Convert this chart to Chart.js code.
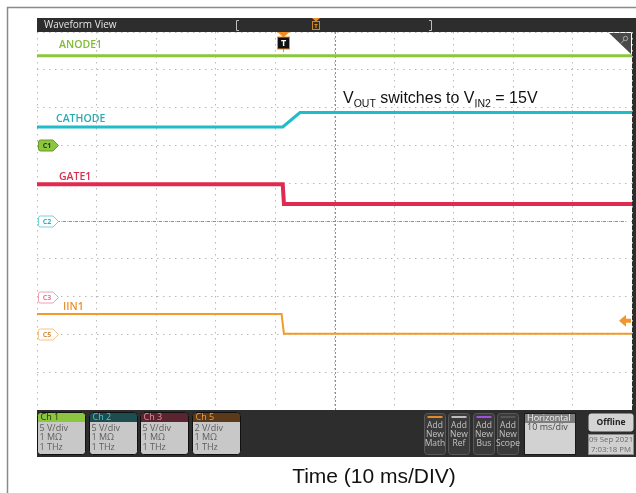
<!DOCTYPE html>
<html>
<head>
<meta charset="utf-8">
<title>Waveform View</title>
<script src="https://cdn.jsdelivr.net/npm/chart.js@4.4.1/dist/chart.umd.min.js"></script>
<style>
  html, body { margin: 0; padding: 0; background: #fff; }
  #wrap { width: 636px; height: 493px; }
</style>
</head>
<body>
<div id="wrap"><canvas id="scope" width="636" height="493"></canvas></div>
<script>
// horizontal: 10 div x 10 ms/div -> 0..100 ms ; vertical: 10 divisions
const anodeTime = [0, 100];
const anodeLevel = [9.37, 9.37];
const cathodeTime = [0, 41.3, 44.2, 100];
const cathodeLevel = [7.49, 7.49, 7.87, 7.87];
const gateTime = [0, 41.3, 41.5, 100];
const gateLevel = [5.97, 5.97, 5.45, 5.45];
const iinTime = [0, 41.1, 41.5, 100];
const iinLevel = [2.54, 2.54, 2.02, 2.02];

const channelNames = ["ANODE1", "CATHODE", "GATE1", "IIN1"];
const markerNames = ["C1", "C2", "C3", "C5"];
const markerLevels = [7, 5, 3, 2];
const triggerTime = 41.3;
const triggerLevel = 2.36;

const badgeNames = ["Ch 1", "Ch 2", "Ch 3", "Ch 5"];
const badgeScales = ["5 V/div", "5 V/div", "5 V/div", "2 V/div"];
const badgeImpedance = ["1 MΩ", "1 MΩ", "1 MΩ", "1 MΩ"];
const badgeBandwidth = ["1 THz", "1 THz", "1 THz", "1 THz"];
const addButtons = ["Math", "Ref", "Bus", "Scope"];
const horizontalScale = "10 ms/div";
const dateText = ["09 Sep 2021", "7:03:18 PM"];

const colors = ["#8cc63f", "#1fbcc9", "#e12a50", "#f39a2b"];
const labelColors = ["#7fbb35", "#2aaab3", "#d9304f", "#ec9231"];

function pts(t, v) {
  return t.map((x, i) => ({ x: x, y: v[i] }));
}

const UI = "'Open Sans', 'DejaVu Sans', sans-serif";

const scopeChrome = {
  id: "scopeChrome",
  beforeDraw(chart) {
    const ctx = chart.ctx;
    ctx.save();
    ctx.fillStyle = "#fff";
    ctx.fillRect(0, 0, 636, 493);
    // outer frame
    ctx.strokeStyle = "#8a8a8a";
    ctx.lineWidth = 1.5;
    ctx.beginPath();
    ctx.moveTo(7.5, 493);
    ctx.lineTo(7.5, 7.5);
    ctx.lineTo(636, 7.5);
    ctx.stroke();
    // title bar
    ctx.fillStyle = "#2d2d2d";
    ctx.fillRect(37, 18, 599, 14);
    ctx.fillRect(632, 18, 4, 395);
    ctx.fillStyle = "#e4e4e4";
    ctx.font = "10px " + UI;
    ctx.textBaseline = "middle";
    ctx.fillText("Waveform View", 44, 25.5);
    ctx.strokeStyle = "#bdbdbd";
    ctx.lineWidth = 1;
    ctx.beginPath();
    ctx.moveTo(239, 20.5); ctx.lineTo(236.5, 20.5); ctx.lineTo(236.5, 30.5); ctx.lineTo(239, 30.5);
    ctx.moveTo(429, 20.5); ctx.lineTo(431.5, 20.5); ctx.lineTo(431.5, 30.5); ctx.lineTo(429, 30.5);
    ctx.stroke();
    // trigger position in overview
    ctx.fillStyle = "#f28c1e";
    ctx.beginPath();
    ctx.moveTo(312, 18); ctx.lineTo(320, 18); ctx.lineTo(316, 21.5); ctx.closePath();
    ctx.fill();
    ctx.fillStyle = "#3b2c12";
    ctx.strokeStyle = "#d0852a";
    ctx.fillRect(312.5, 21.5, 7, 8);
    ctx.strokeRect(312.5, 21.5, 7, 8);
    ctx.fillStyle = "#e89a3c";
    ctx.font = "bold 6px " + UI;
    ctx.textAlign = "center";
    ctx.fillText("T", 316, 25.8);
    ctx.restore();
  },
  beforeDatasetsDraw(chart) {
    const ctx = chart.ctx;
    const xs = chart.scales.x, ys = chart.scales.y;
    const a = chart.chartArea;
    ctx.save();
    ctx.strokeStyle = "#8f8f8f";
    ctx.lineWidth = 1;
    ctx.setLineDash([2, 2]);
    const cx = Math.round(xs.getPixelForValue(50)) + 0.5;
    ctx.beginPath();
    ctx.moveTo(cx, a.top); ctx.lineTo(cx, a.bottom);
    ctx.stroke();
    ctx.setLineDash([3, 3]);
    const cy = Math.round(ys.getPixelForValue(5)) + 0.5;
    ctx.beginPath();
    ctx.moveTo(a.left + 20, cy); ctx.lineTo(a.right - 8, cy);
    ctx.stroke();
    ctx.restore();
  },
  afterDatasetsDraw(chart) {
    const ctx = chart.ctx;
    const xs = chart.scales.x, ys = chart.scales.y;
    ctx.save();
    // channel labels
    const startLevels = [anodeLevel[0], cathodeLevel[0], gateLevel[0], iinLevel[0]];
    const labelX = [59, 56, 59, 63];
    const labelDy = [-11, -8, -7.5, -6.5];
    ctx.font = "600 10.5px " + UI;
    ctx.textBaseline = "middle";
    channelNames.forEach((n, i) => {
      ctx.fillStyle = labelColors[i];
      ctx.fillText(n, labelX[i], ys.getPixelForValue(startLevels[i]) + labelDy[i]);
    });
    // ground tags on the left
    const tagFill = ["#8cc63f", "#ffffff", "#ffffff", "#ffffff"];
    const tagStroke = ["#6a9a2a", "#6fd6de", "#f2a0b4", "#f5c48a"];
    const tagText = ["#2a3a10", "#3aa9b2", "#e07a92", "#d9903a"];
    markerNames.forEach((n, i) => {
      const y = Math.round(ys.getPixelForValue(markerLevels[i])) + 0.5;
      const x0 = 38.5, x1 = 53, tip = 58.5, h = 5.5;
      ctx.beginPath();
      ctx.moveTo(x0 + 2, y - h);
      ctx.lineTo(x1, y - h);
      ctx.lineTo(tip, y);
      ctx.lineTo(x1, y + h);
      ctx.lineTo(x0 + 2, y + h);
      ctx.quadraticCurveTo(x0, y + h, x0, y + h - 2);
      ctx.lineTo(x0, y - h + 2);
      ctx.quadraticCurveTo(x0, y - h, x0 + 2, y - h);
      ctx.closePath();
      ctx.fillStyle = tagFill[i];
      ctx.fill();
      ctx.strokeStyle = tagStroke[i];
      ctx.lineWidth = 1;
      ctx.stroke();
      ctx.fillStyle = tagText[i];
      ctx.font = "bold 7px " + UI;
      ctx.textAlign = "center";
      ctx.fillText(n, 47, y + 0.5);
    });
    ctx.textAlign = "left";
    // trigger marker T
    const tx = Math.round(xs.getPixelForValue(triggerTime)) + 0.5;
    ctx.fillStyle = "#f28c1e";
    ctx.beginPath();
    ctx.moveTo(tx - 6, 32); ctx.lineTo(tx + 6, 32); ctx.lineTo(tx, 37.5); ctx.closePath();
    ctx.fill();
    ctx.fillStyle = "#111";
    ctx.strokeStyle = "#f28c1e";
    ctx.lineWidth = 1;
    ctx.fillRect(tx - 6, 37, 12, 12);
    ctx.strokeRect(tx - 6, 37, 12, 12);
    ctx.beginPath();
    ctx.moveTo(tx, 49); ctx.lineTo(tx, 52);
    ctx.stroke();
    ctx.fillStyle = "#fff";
    ctx.font = "bold 9px " + UI;
    ctx.textAlign = "center";
    ctx.fillText("T", tx, 43.5);
    // trigger level arrow on the right
    const ty = ys.getPixelForValue(triggerLevel);
    ctx.fillStyle = "#f0962d";
    ctx.beginPath();
    ctx.moveTo(619, ty); ctx.lineTo(626, ty - 6); ctx.lineTo(626, ty - 2);
    ctx.lineTo(631, ty - 2); ctx.lineTo(631, ty + 2); ctx.lineTo(626, ty + 2);
    ctx.lineTo(626, ty + 6); ctx.closePath();
    ctx.fill();
    // corner badge
    ctx.fillStyle = "#4a4a4a";
    ctx.beginPath();
    ctx.moveTo(609, 33); ctx.lineTo(631, 33); ctx.lineTo(631, 54); ctx.closePath();
    ctx.fill();
    ctx.strokeStyle = "#a8a8a8";
    ctx.beginPath();
    ctx.arc(625.5, 38.5, 2.2, 0, Math.PI * 2);
    ctx.moveTo(624, 40); ctx.lineTo(621, 43.5);
    ctx.stroke();
    // annotation with subscripts
    ctx.fillStyle = "#111";
    ctx.textAlign = "left";
    ctx.textBaseline = "alphabetic";
    const big = "16px 'Liberation Sans', Arial, sans-serif";
    const small = "10.5px 'Liberation Sans', Arial, sans-serif";
    const parts = [["V", big, 0], ["OUT", small, 3.5], [" switches to V", big, 0], ["IN2", small, 3.5], [" = 15V", big, 0]];
    let px = 343;
    parts.forEach(p => {
      ctx.font = p[1];
      ctx.fillText(p[0], px, 103 + p[2]);
      px += ctx.measureText(p[0]).width;
    });
    ctx.restore();
  },
  afterDraw(chart) {
    const ctx = chart.ctx;
    ctx.save();
    // bottom control strip
    ctx.fillStyle = "#2d2d2d";
    ctx.fillRect(37, 410, 599, 47);
    ctx.textBaseline = "middle";
    const bx = [37.5, 89.5, 140.5, 192.5];
    const headFill = ["#8cc63f", "#1e4d4f", "#5a2530", "#5a3a1a"];
    const headText = ["#1d2a0c", "#3fd0d8", "#f08aa0", "#f5a040"];
    bx.forEach((x, i) => {
      ctx.beginPath();
      ctx.roundRect(x, 412.5, 48, 42, 3);
      ctx.fillStyle = "#c8c8c8";
      ctx.fill();
      ctx.save();
      ctx.clip();
      ctx.fillStyle = headFill[i];
      ctx.fillRect(x, 412.5, 48, 9.5);
      ctx.restore();
      ctx.strokeStyle = "#111";
      ctx.lineWidth = 1;
      ctx.stroke();
      ctx.font = "9px " + UI;
      ctx.textAlign = "left";
      ctx.fillStyle = headText[i];
      ctx.fillText(badgeNames[i], x + 3, 417.5);
      ctx.fillStyle = "#5e5e5e";
      ctx.fillText(badgeScales[i], x + 2, 428);
      ctx.fillText(badgeImpedance[i], x + 2, 437.5);
      ctx.fillText(badgeBandwidth[i], x + 2, 447.5);
    });
    // add new buttons
    const ax = [424.5, 448.5, 473.5, 497.5];
    const strip = ["#e08a2a", "#bdbdbd", "#a050e0", "#555555"];
    ax.forEach((x, i) => {
      ctx.beginPath();
      ctx.roundRect(x, 413.5, 21, 41, 3);
      ctx.fillStyle = "#3a3a3a";
      ctx.fill();
      ctx.strokeStyle = "#585858";
      ctx.stroke();
      ctx.fillStyle = strip[i];
      ctx.fillRect(x + 3, 416, 15, 2);
      ctx.fillStyle = "#c4c4c4";
      ctx.font = "8.5px " + UI;
      ctx.textAlign = "center";
      ctx.fillText("Add", x + 10.5, 426);
      ctx.fillText("New", x + 10.5, 435);
      ctx.fillText(addButtons[i], x + 10.5, 444);
    });
    // horizontal box
    ctx.fillStyle = "#d2d2d2";
    ctx.fillRect(524.5, 413.5, 51, 41);
    ctx.fillStyle = "#7d7d7d";
    ctx.fillRect(524.5, 413.5, 51, 9.5);
    ctx.strokeStyle = "#1a1a1a";
    ctx.strokeRect(524.5, 413.5, 51, 41);
    ctx.textAlign = "left";
    ctx.font = "9px " + UI;
    ctx.fillStyle = "#f2f2f2";
    ctx.fillText("Horizontal", 527, 418.5);
    ctx.fillStyle = "#4a4a4a";
    ctx.fillText(horizontalScale, 527, 427.5);
    // offline + date
    ctx.beginPath();
    ctx.roundRect(588.5, 413.5, 45, 18, 3);
    ctx.fillStyle = "#d4d4d4";
    ctx.fill();
    ctx.textAlign = "center";
    ctx.fillStyle = "#222";
    ctx.font = "bold 8.5px " + UI;
    ctx.fillText("Offline", 611, 422.5);
    ctx.fillStyle = "#d0d0d0";
    ctx.fillRect(588.5, 434.5, 45, 20);
    ctx.strokeStyle = "#8a8a8a";
    ctx.strokeRect(588.5, 434.5, 45, 20);
    ctx.fillStyle = "#6a6a6a";
    ctx.font = "7.8px " + UI;
    ctx.fillText(dateText[0], 611, 440);
    ctx.fillText(dateText[1], 611, 449.5);
    // axis caption
    ctx.fillStyle = "#111";
    ctx.font = "21px 'Liberation Sans', Arial, sans-serif";
    ctx.fillText("Time (10 ms/DIV)", 374, 477);
    ctx.restore();
  }
};

const ctx = document.getElementById("scope").getContext("2d");
const scopeChart = new Chart(ctx, {
  type: "line",
  data: {
    datasets: [
      { label: channelNames[0], data: pts(anodeTime, anodeLevel), borderColor: colors[0], borderWidth: 3 },
      { label: channelNames[1], data: pts(cathodeTime, cathodeLevel), borderColor: colors[1], borderWidth: 3 },
      { label: channelNames[2], data: pts(gateTime, gateLevel), borderColor: colors[2], borderWidth: 4 },
      { label: channelNames[3], data: pts(iinTime, iinLevel), borderColor: colors[3], borderWidth: 2 },
    ],
  },
  options: {
    responsive: false,
    animation: false,
    devicePixelRatio: 1,
    layout: { padding: { left: 37, right: 4, top: 32, bottom: 83 } },
    elements: { point: { radius: 0 }, line: { tension: 0 } },
    plugins: {
      legend: { display: false },
      tooltip: { enabled: false },
    },
    scales: {
      x: {
        type: "linear",
        min: 0,
        max: 100,
        ticks: { display: false, stepSize: 10 },
        grid: { color: "#b9b9b9", drawTicks: false },
        border: { display: false, dash: [1.5, 4.5] },
      },
      y: {
        min: 0,
        max: 10,
        ticks: { display: false, stepSize: 1 },
        grid: { color: "#b9b9b9", drawTicks: false },
        border: { display: false, dash: [1.5, 4.5] },
      },
    },
  },
  plugins: [scopeChrome],
});
</script>
</body>
</html>
